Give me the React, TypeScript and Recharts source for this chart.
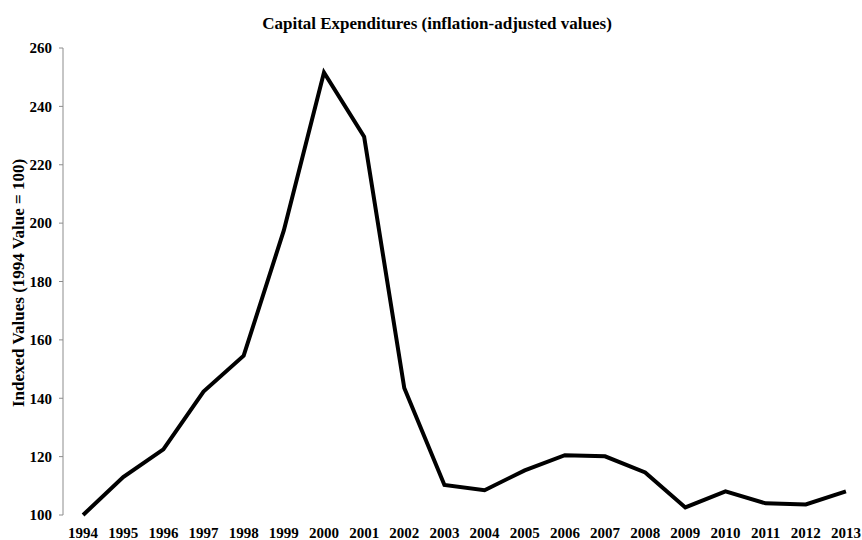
import { LineChart, Line, XAxis, YAxis } from 'recharts'

const years = [
  '1994', '1995', '1996', '1997', '1998', '1999', '2000', '2001', '2002', '2003',
  '2004', '2005', '2006', '2007', '2008', '2009', '2010', '2011', '2012', '2013',
]

const indexedValues = [
  100, 113, 122.5, 142.3, 154.6, 197.5, 251.6, 229.6, 143.5, 110.3,
  108.5, 115.3, 120.5, 120.1, 114.6, 102.6, 108.1, 104.0, 103.6, 108.1,
]

const yTicks = [100, 120, 140, 160, 180, 200, 220, 240, 260]

const data = years.map((year, i) => ({ idx: i, year, value: indexedValues[i] }))

// tick marks sit between categories, labels sit on them
const boundaryTicks = years.map((_, i) => i - 0.5).concat([years.length - 0.5])
const labelTicks = years.map((_, i) => i)

const FONT = '"Liberation Serif", "DejaVu Serif", serif'
const AXIS_GREY = '#8c8c8c'

const tickStyle = { fill: '#000', fontSize: 15, fontWeight: 700, fontFamily: FONT }

function YLabel() {
  return (
    <text
      x={18}
      y={283}
      transform="rotate(-90, 18, 283)"
      textAnchor="middle"
      dominantBaseline="central"
      fill="#000"
      fontSize={17}
      fontWeight={700}
      fontFamily={FONT}
    >
      Indexed Values (1994 Value = 100)
    </text>
  )
}

export default function App() {
  return (
    <div
      style={{
        position: 'absolute',
        left: 0,
        top: 0,
        width: 862,
        height: 540,
        overflow: 'hidden',
        background: '#fff',
      }}
    >
      <div
        style={{
          position: 'absolute',
          left: 0,
          top: 14,
          width: 874,
          textAlign: 'center',
          fontFamily: FONT,
          fontWeight: 700,
          fontSize: 17,
          color: '#000',
        }}
      >
        Capital Expenditures (inflation-adjusted values)
      </div>
      <LineChart
        width={870}
        height={540}
        data={data}
        margin={{ top: 48, right: 4, bottom: 0, left: 0 }}
      >
        <XAxis
          xAxisId="marks"
          dataKey="idx"
          type="number"
          domain={[-0.5, years.length - 0.5]}
          ticks={boundaryTicks}
          tick={false}
          tickSize={5}
          height={0}
          stroke={AXIS_GREY}
          axisLine={{ stroke: AXIS_GREY }}
          tickLine={{ stroke: AXIS_GREY }}
        />
        <XAxis
          xAxisId="labels"
          dataKey="idx"
          type="number"
          domain={[-0.5, years.length - 0.5]}
          ticks={labelTicks}
          interval={0}
          tickFormatter={(v) => years[v]}
          tick={tickStyle}
          tickLine={false}
          axisLine={false}
          tickSize={0}
          tickMargin={12}
          height={25}
        />
        <YAxis
          domain={[100, 260]}
          ticks={yTicks}
          width={63}
          tick={tickStyle}
          tickSize={4}
          tickMargin={7}
          stroke={AXIS_GREY}
          axisLine={{ stroke: AXIS_GREY }}
          tickLine={{ stroke: AXIS_GREY }}
          label={<YLabel />}
        />
        <Line
          xAxisId="marks"
          type="linear"
          dataKey="value"
          stroke="#000"
          strokeWidth={4}
          dot={false}
          isAnimationActive={false}
        />
      </LineChart>
    </div>
  )
}
